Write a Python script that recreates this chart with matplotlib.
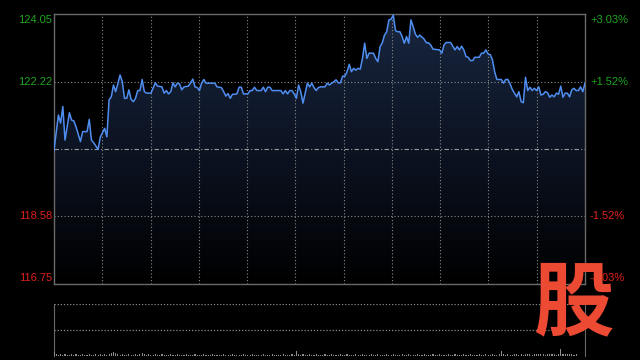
import numpy as np
import matplotlib
matplotlib.use("Agg")
import matplotlib.pyplot as plt
from matplotlib.colors import LinearSegmentedColormap

# Intraday price (minute index from the open, price)
minutes = [0, 2, 3, 4, 5, 7, 8, 9, 10, 12, 13, 15, 16, 17, 18, 20, 21, 23, 24, 25,
           26, 27, 28, 30, 31, 32, 33, 34, 35, 36, 37, 38, 39, 40, 41, 42, 44, 46, 47, 49,
           50, 51, 52, 53, 54, 55, 56, 57, 58, 59, 61, 62, 63, 64, 65, 66, 67, 68, 69, 71,
           73, 74, 76, 77, 78, 79, 80, 81, 82, 83, 84, 85, 86, 88, 89, 90, 91, 92, 94, 95,
           96, 97, 98, 99, 103, 104, 105, 106, 107, 108, 109, 110, 111, 112, 113, 114, 115, 116, 117, 118,
           119, 120, 121, 123, 124, 125, 126, 127, 128, 129, 130, 131, 132, 133, 134, 135, 136, 137, 138, 139,
           140, 141, 142, 143, 144, 145, 146, 147, 148, 149, 150, 151, 152, 153, 154, 155, 156, 157, 158, 159,
           160, 161, 162, 163, 164, 165, 166, 168, 169, 170, 171, 172, 175, 176, 177, 178, 180, 181, 182, 183,
           184, 185, 186, 187, 188, 189, 190, 191, 193, 194, 195, 196, 197, 198, 199, 200, 201, 203, 204, 205,
           206, 207, 208, 209, 210, 211, 212, 213, 214, 215, 216, 217, 218, 219, 220, 221, 222, 223, 224, 225,
           226, 227, 228, 229, 230, 231, 232, 233, 234, 235, 236, 237, 238, 239, 240, 241]
prices = [120.37, 121.32, 121.10, 121.55, 120.64, 121.38, 121.18, 121.16, 121.00, 120.60,
          120.87, 120.87, 121.20, 120.64, 120.57, 120.39, 120.72, 120.96, 120.73, 121.73,
          121.81, 122.13, 121.95, 122.40, 122.22, 121.77, 121.77, 122.00, 121.74, 121.68,
          121.77, 121.98, 121.98, 122.28, 121.95, 121.91, 121.91, 122.19, 122.10, 122.08,
          121.91, 121.98, 121.89, 121.95, 122.19, 122.08, 122.18, 122.16, 122.00, 122.08,
          122.10, 122.19, 122.29, 122.08, 122.06, 121.98, 122.18, 122.28, 122.18, 122.18,
          122.18, 122.08, 122.06, 121.95, 121.83, 121.90, 121.77, 121.88, 121.88, 121.89,
          122.07, 122.07, 121.89, 121.89, 121.98, 121.98, 122.07, 121.98, 121.98, 122.07,
          121.95, 122.07, 122.07, 121.98, 121.98, 121.89, 121.98, 121.89, 121.98, 121.98,
          121.89, 121.77, 122.13, 121.95, 121.64, 121.91, 122.18, 122.08, 122.18, 122.06,
          121.98, 122.06, 122.08, 122.08, 122.18, 122.13, 122.18, 122.22, 122.27, 122.19,
          122.19, 122.37, 122.37, 122.49, 122.69, 122.49, 122.58, 122.53, 122.58, 122.56,
          122.85, 123.26, 122.85, 122.99, 122.99, 122.99, 122.85, 122.76, 123.17, 123.27,
          123.48, 123.57, 123.89, 123.91, 124.02, 123.60, 123.57, 123.57, 123.44, 123.26,
          123.44, 123.26, 123.89, 123.71, 123.51, 123.42, 123.48, 123.37, 123.27, 123.27,
          123.21, 123.10, 123.08, 122.99, 123.21, 123.28, 123.28, 123.18, 123.08, 123.17,
          123.08, 123.18, 123.08, 122.90, 122.88, 122.79, 122.79, 122.88, 122.88, 122.99,
          122.99, 123.08, 122.97, 122.95, 122.81, 122.49, 122.28, 122.28, 122.18, 122.28,
          122.28, 122.16, 122.01, 121.91, 121.81, 121.95, 121.68, 121.65, 122.34, 121.98,
          122.07, 121.98, 122.04, 121.98, 122.08, 121.86, 121.88, 121.95, 121.92, 121.80,
          121.86, 121.81, 121.91, 121.88, 122.10, 121.80, 121.91, 121.91, 121.81, 122.00,
          122.04, 121.98, 121.98, 122.08, 121.95, 122.18]

prev_close = 120.40
y_ticks = [124.05, 122.22, 118.58, 116.75]
y_labels = ["124.05", "122.22", "118.58", "116.75"]
pct_labels = ["+3.03%", "+1.52%", "-1.52%", "-3.03%"]

# Volume per minute (relative, estimated from the tiny bars)
volume = [8, 3, 2, 3, 2, 3, 2, 2, 3, 2, 3, 2, 2, 3, 2, 2, 3, 2, 2, 3, 2, 3,
          2, 3, 2, 3, 6, 7, 6, 3, 2, 3, 2, 2, 3, 2, 2, 3, 2, 3, 6, 3, 2, 3,
          2, 2, 3, 2, 2, 3, 2, 2, 2, 3, 2, 2, 3, 2, 2, 2, 3, 2, 2, 2, 3, 2,
          2, 2, 3, 2, 2, 2, 3, 2, 2, 2, 2, 3, 2, 2, 2, 3, 2, 2, 2, 2, 3, 2,
          2, 2, 3, 2, 2, 2, 2, 3, 2, 2, 2, 3, 2, 2, 2, 2, 3, 2, 2, 2, 3, 2,
          10, 3, 2, 3, 2, 2, 3, 2, 2, 3, 2, 2, 2, 3, 2, 2, 3, 2, 2, 2, 3, 2,
          2, 3, 2, 2, 2, 3, 2, 2, 3, 2, 2, 2, 3, 2, 2, 3, 2, 2, 2, 3, 2, 2,
          3, 2, 2, 2, 3, 2, 2, 3, 2, 2, 2, 3, 2, 2, 3, 2, 2, 2, 3, 2, 2, 3,
          2, 2, 2, 3, 2, 2, 3, 2, 2, 2, 3, 2, 2, 3, 2, 2, 2, 3, 2, 2, 3, 2,
          2, 3, 2, 2, 3, 9, 3, 2, 3, 2, 2, 3, 4, 2, 3, 2, 3, 4, 3, 2, 3, 4,
          3, 3, 4, 2, 3, 3, 4, 3, 2, 3, 13, 3, 4, 3, 4, 3, 2, 4]

n_min = 241
green = "#1fa51f"
red = "#e0201a"
grid_col = "#8a8a8a"
spine_col = "#6a6a6a"

fig = plt.figure(figsize=(6.4, 3.6), dpi=100, facecolor="black")
ax = fig.add_axes([54 / 640, 76 / 360, 531 / 640, 270 / 360])
axv = fig.add_axes([54 / 640, 4 / 360, 531 / 640, 52 / 360])

for a in (ax, axv):
    a.set_facecolor("black")
    a.set_xlim(0, n_min)
    a.set_xticks([])
    a.set_yticks([])

ax.set_ylim(116.75, 124.05)
for s in ax.spines.values():
    s.set_color(spine_col)
    s.set_linewidth(1.0)

# gradient fill under the price line
cmap = LinearSegmentedColormap.from_list("fill", ["#000000", "#0c1322", "#18263f"])
grad = np.linspace(0, 1, 256).reshape(-1, 1)
img = ax.imshow(grad, extent=(0, n_min, 116.75, 124.05), origin="lower",
                aspect="auto", cmap=cmap, zorder=1)
poly = ax.fill_between(minutes, prices, 116.75, color="none", lw=0)
img.set_clip_path(poly.get_paths()[0], transform=ax.transData)

# grid
for k in range(1, 11):
    ax.axvline(n_min * k / 11, color=grid_col, lw=0.8, ls=(0, (1, 2)), zorder=2)
for yv in (122.22, 118.58):
    ax.axhline(yv, color=grid_col, lw=0.8, ls=(0, (1, 2)), zorder=2)
ax.axhline(prev_close, color="#9a9a9a", lw=0.8, ls=(0, (4, 2, 1, 2)), zorder=2)

ax.plot(minutes, prices, color="#4f8ef0", lw=1.1, zorder=3)

# axis labels
offsets = [-6, 0, 0, 6]
for yv, lab, pct, off in zip(y_ticks, y_labels, pct_labels, offsets):
    col = green if yv > prev_close else red
    ax.annotate(lab, xy=(0, yv), xycoords=("axes fraction", "data"),
                xytext=(-2, off), textcoords="offset pixels",
                ha="right", va="center", color=col, fontsize=8,
                family="Liberation Sans")
    ax.annotate(pct, xy=(1, yv), xycoords=("axes fraction", "data"),
                xytext=(5, off), textcoords="offset pixels",
                ha="left", va="center", color=col, fontsize=8,
                family="Liberation Sans")

# volume panel
axv.set_ylim(0, 100)
axv.bar(range(len(volume)), volume, width=0.5, color="#8c8c8c", zorder=3)
axv.axhline(100, color=grid_col, lw=0.9, ls=(0, (1, 1.5)), zorder=2)
axv.axhline(50, color=grid_col, lw=0.9, ls=(0, (1, 1.5)), zorder=2)
axv.spines["top"].set_visible(False)
axv.spines["bottom"].set_visible(False)
for side in ("left", "right"):
    axv.spines[side].set_color(spine_col)

# watermark logo (sits over the bottom-right corner)
fig.text(574 / 640, 1 - 305 / 360, "股", color="#ec4a33", fontsize=58, fontweight="bold",
         family=["Noto Sans CJK SC"], ha="center", va="center", zorder=10)

fig.savefig("out.png", dpi=100, facecolor="black")
